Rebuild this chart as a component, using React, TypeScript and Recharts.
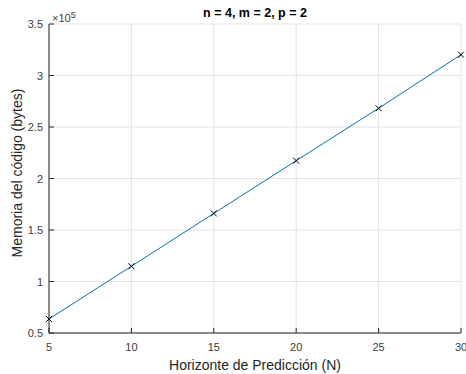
import React from 'react';
import { LineChart, Line, XAxis, YAxis, CartesianGrid } from 'recharts';

// horizonte de predicción N y memoria del código (bytes)
const horizons = [5, 10, 15, 20, 25, 30];
const memoryBytes = [63600, 114800, 166100, 217300, 268200, 320200];
const xTicks = [5, 10, 15, 20, 25, 30];
const yTicks = [50000, 100000, 150000, 200000, 250000, 300000, 350000];

const data = horizons.map((n, i) => ({ n, mem: memoryBytes[i] }));

const FONT = '"Liberation Sans", Arial, Helvetica, sans-serif';
const AXIS = '#262626';
const TICK_TEXT = '#404040';
const GRID = '#e3e3e3';
const LINE = '#0072BD';

const BottomTick = (props: any) => {
  const { x, y, payload } = props;
  return (
    <g>
      <line x1={x} y1={y} x2={x} y2={y - 5} stroke={AXIS} />
      <text x={x} y={y + 18} textAnchor="middle" fontSize={11} fill={TICK_TEXT} fontFamily={FONT}>
        {payload.value}
      </text>
    </g>
  );
};

const TopTick = (props: any) => {
  const { x, y } = props;
  return <line x1={x} y1={y} x2={x} y2={y + 5} stroke={AXIS} />;
};

const LeftTick = (props: any) => {
  const { x, y, payload } = props;
  return (
    <g>
      <line x1={x} y1={y} x2={x + 5} y2={y} stroke={AXIS} />
      <text x={x - 6} y={y + 4} textAnchor="end" fontSize={11} fill={TICK_TEXT} fontFamily={FONT}>
        {String(payload.value / 100000)}
      </text>
    </g>
  );
};

const RightTick = (props: any) => {
  const { x, y } = props;
  return <line x1={x} y1={y} x2={x - 5} y2={y} stroke={AXIS} />;
};

const CrossDot = (props: any) => {
  const { cx, cy, index } = props;
  if (cx == null || cy == null) return null;
  const s = 3;
  return (
    <g key={`x-${index}`}>
      <line x1={cx - s} y1={cy - s} x2={cx + s} y2={cy + s} stroke="#000" strokeWidth={1} />
      <line x1={cx - s} y1={cy + s} x2={cx + s} y2={cy - s} stroke="#000" strokeWidth={1} />
    </g>
  );
};

export default function App() {
  return (
    <div style={{ position: 'absolute', left: 0, top: 0, width: 466, height: 374, background: '#fff', fontFamily: FONT }}>
      <LineChart width={466} height={374} data={data} margin={{ top: 24, right: 5, bottom: 0, left: 0 }}>
        <CartesianGrid stroke={GRID} />
        <XAxis
          dataKey="n"
          type="number"
          domain={[5, 30]}
          ticks={xTicks}
          height={41}
          tickSize={0}
          tickMargin={0}
          tick={<BottomTick />}
          axisLine={{ stroke: AXIS }}
          tickLine={false}
          interval={0}
        />
        <XAxis
          xAxisId="top"
          orientation="top"
          type="number"
          domain={[5, 30]}
          ticks={xTicks}
          height={0}
          tickSize={0}
          tickMargin={0}
          tick={<TopTick />}
          axisLine={{ stroke: AXIS }}
          tickLine={false}
          interval={0}
        />
        <YAxis
          type="number"
          domain={[50000, 350000]}
          ticks={yTicks}
          width={49}
          tickSize={0}
          tickMargin={0}
          tick={<LeftTick />}
          axisLine={{ stroke: AXIS }}
          tickLine={false}
          interval={0}
        />
        <YAxis
          yAxisId="right"
          orientation="right"
          type="number"
          domain={[50000, 350000]}
          ticks={yTicks}
          width={0}
          tickSize={0}
          tickMargin={0}
          tick={<RightTick />}
          axisLine={{ stroke: AXIS }}
          tickLine={false}
          interval={0}
        />
        <Line
          type="linear"
          dataKey="mem"
          stroke={LINE}
          strokeWidth={1}
          dot={<CrossDot />}
          activeDot={false}
          isAnimationActive={false}
        />
      </LineChart>

      <div style={{ position: 'absolute', left: 105, top: 7, width: 300, textAlign: 'center', fontSize: 12.5, lineHeight: '12px', fontWeight: 'bold', color: '#000' }}>
        n = 4, m = 2, p = 2
      </div>
      <div style={{ position: 'absolute', left: 52, top: 13, fontSize: 11, lineHeight: '11px', color: TICK_TEXT, whiteSpace: 'nowrap' }}>
        ×10<span style={{ fontSize: 9, position: 'relative', top: -4 }}>5</span>
      </div>
      <div style={{ position: 'absolute', left: 105, top: 358, width: 300, textAlign: 'center', fontSize: 14, lineHeight: '14px', color: AXIS }}>
        Horizonte de Predicción (N)
      </div>
      <div
        style={{
          position: 'absolute',
          left: 16.5,
          top: 172.5,
          width: 300,
          textAlign: 'center',
          fontSize: 14,
          lineHeight: '14px',
          color: AXIS,
          transform: 'translate(-50%, -50%) rotate(-90deg)',
          whiteSpace: 'nowrap',
        }}
      >
        Memoria del código (bytes)
      </div>
    </div>
  );
}
